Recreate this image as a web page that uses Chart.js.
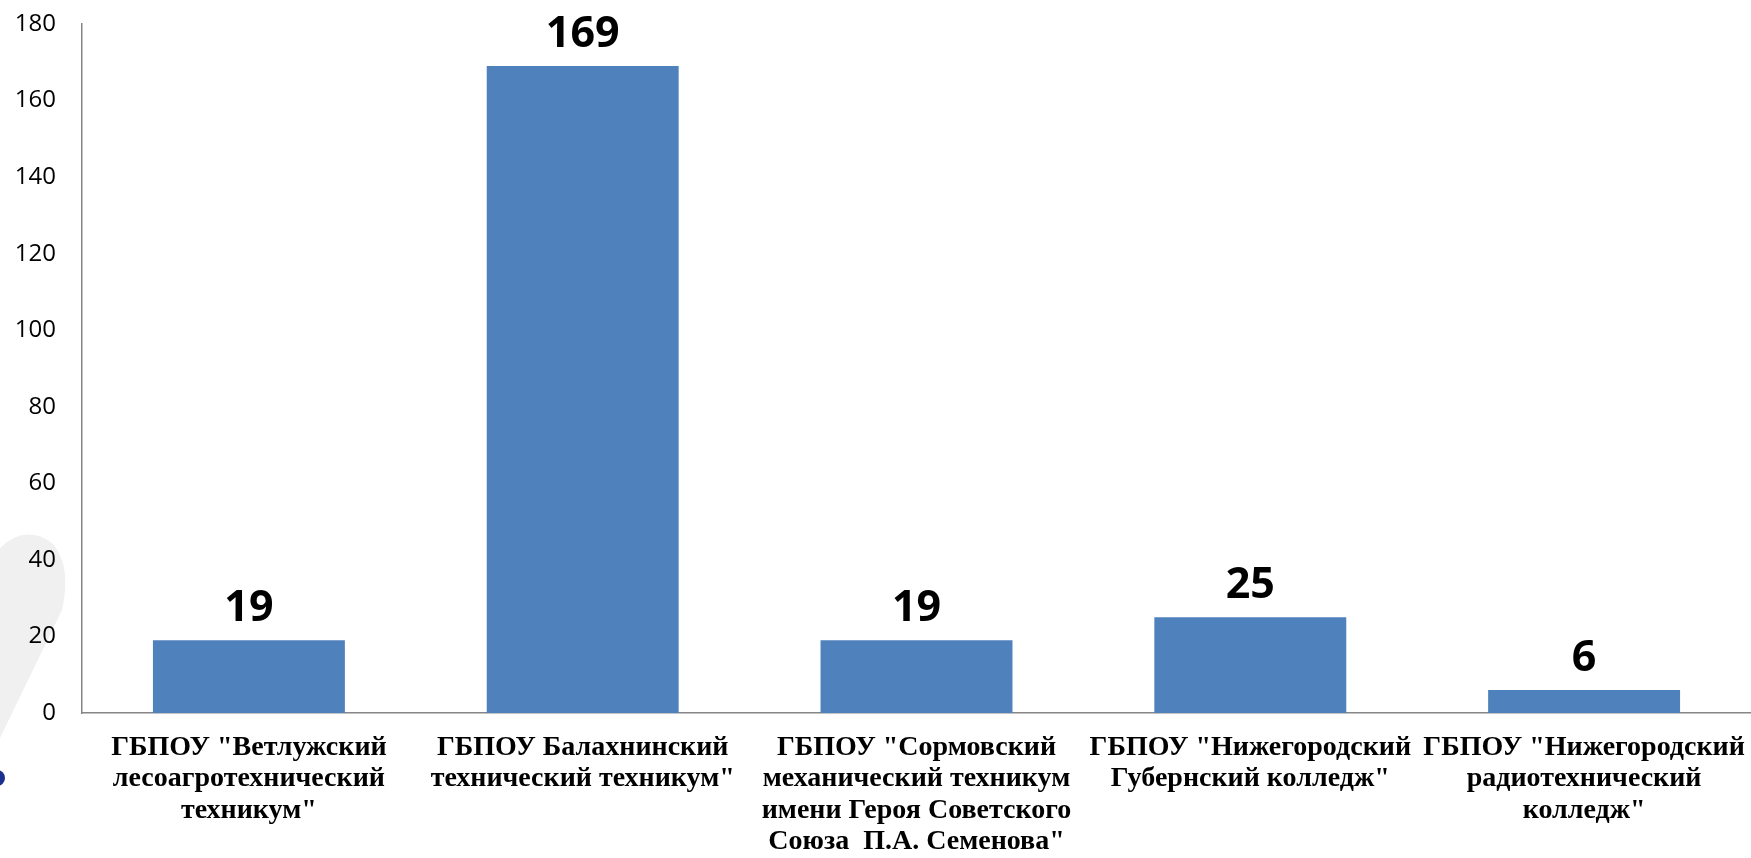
<!DOCTYPE html>
<html>
<head>
<meta charset="utf-8">
<script src="https://cdn.jsdelivr.net/npm/chart.js@4"></script>
<style>
  html, body { margin: 0; padding: 0; background: #fff; }
  #wrap { width: 1751px; height: 858px; position: relative; }
</style>
</head>
<body>
<div id="wrap"><canvas id="collegeChart"></canvas></div>
<script>
// Колледжи и количество
const categories = [
    ['ГБПОУ "Ветлужский', 'лесоагротехнический', 'техникум"'],
    ['ГБПОУ Балахнинский', 'технический техникум"'],
    ['ГБПОУ "Сормовский', 'механический техникум', 'имени Героя Советского', 'Союза  П.А. Семенова"'],
    ['ГБПОУ "Нижегородский', 'Губернский колледж"'],
    ['ГБПОУ "Нижегородский', 'радиотехнический', 'колледж"']
];
const values = [19, 169, 19, 25, 6];
const yTicks = [0, 20, 40, 60, 80, 100, 120, 140, 160, 180];

// фон: серый логотип слева
const backgroundMark = {
    id: 'backgroundMark',
    beforeDraw(chart) {
        const ctx = chart.ctx;
        ctx.save();
        ctx.fillStyle = '#f0f0f0';
        ctx.beginPath();
        ctx.moveTo(0, 548);
        ctx.quadraticCurveTo(25, 524, 52, 543);
        ctx.quadraticCurveTo(72, 565, 62, 610);
        ctx.lineTo(0, 738);
        ctx.closePath();
        ctx.fill();
        ctx.fillStyle = '#1b2f8f';
        ctx.beginPath();
        ctx.arc(-3, 778, 8, 0, Math.PI * 2);
        ctx.fill();
        ctx.restore();
    }
};

// подписи значений над столбцами
const valueLabels = {
    id: 'valueLabels',
    afterDatasetsDraw(chart) {
        const ctx = chart.ctx;
        const meta = chart.getDatasetMeta(0);
        ctx.save();
        ctx.font = 'bold 43px "Open Sans", sans-serif';
        ctx.fillStyle = '#000';
        ctx.textAlign = 'center';
        ctx.textBaseline = 'alphabetic';
        meta.data.forEach((bar, i) => {
            ctx.fillText(values[i], bar.x, bar.y - 19);
        });
        ctx.restore();
    }
};

const ctx = document.getElementById('collegeChart').getContext('2d');
const myChart = new Chart(ctx, {
    type: 'bar',
    data: {
        labels: categories,
        datasets: [{
            data: values,
            backgroundColor: '#4F81BD',
            borderWidth: 0,
            barPercentage: 0.575,
            categoryPercentage: 1
        }]
    },
    options: {
        responsive: true,
        maintainAspectRatio: false,
        animation: false,
        layout: { padding: 0 },
        plugins: {
            legend: { display: false },
            tooltip: { enabled: false }
        },
        scales: {
            x: {
                grid: { display: false, drawTicks: false },
                border: { display: true, color: '#868686', width: 1.5 },
                afterFit(scale) {
                    scale.paddingLeft = 0;
                    scale.paddingRight = 0;
                    scale.height = 145;
                },
                ticks: {
                    autoSkip: false,
                    maxRotation: 0,
                    minRotation: 0,
                    padding: 19,
                    color: '#000',
                    font: { family: '"Liberation Serif", "Times New Roman", serif', size: 28, weight: 'bold', lineHeight: '31.5px' }
                }
            },
            y: {
                min: 0,
                max: 180,
                grid: { display: false, drawTicks: false },
                border: { display: true, color: '#868686', width: 1.5 },
                afterBuildTicks(scale) {
                    scale.ticks = yTicks.map(v => ({ value: v }));
                },
                afterFit(scale) {
                    scale.width = 82;
                    scale.paddingTop = 24;
                    scale.paddingBottom = 0;
                },
                ticks: {
                    padding: 26,
                    color: '#000',
                    font: { family: '"Open Sans", sans-serif', size: 24 }
                }
            }
        }
    },
    plugins: [backgroundMark, valueLabels]
});
</script>
</body>
</html>
